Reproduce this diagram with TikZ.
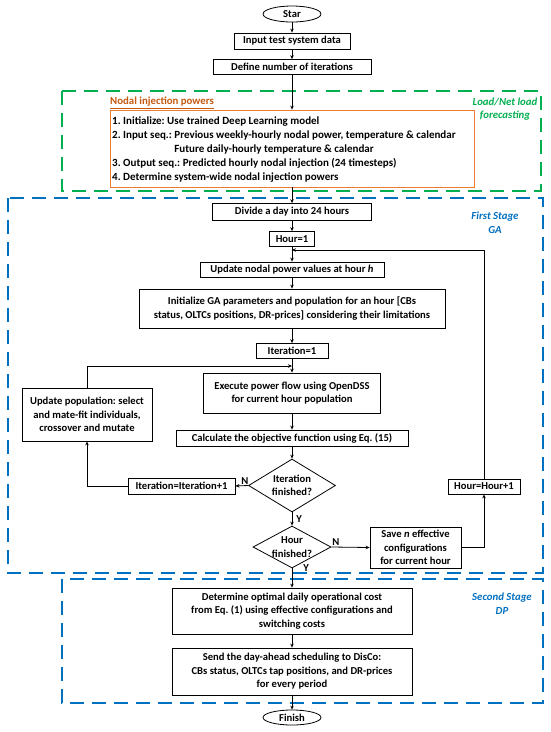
\documentclass[tikz,border=0pt]{standalone}
\usepackage{fontspec}
\setmainfont{Carlito}
\usepackage{xcolor}
\usepackage{tikz}
\usetikzlibrary{arrows.meta, shapes.geometric, positioning}
\definecolor{stageblue}{HTML}{0070C0}
\definecolor{loadgreen}{HTML}{00B050}
\definecolor{nodalorange}{HTML}{C55A11}
\definecolor{boxorange}{HTML}{ED7D31}
\frenchspacing

\begin{document}
\begin{tikzpicture}[x=1pt, y=-1pt,
  every node/.style={font=\fontsize{10.6}{13.6}\selectfont\bfseries},
  box/.style={draw, line width=0.8pt, align=center, inner sep=1pt},
  term/.style={draw, ellipse, line width=0.8pt, inner sep=0pt},
  decision/.style={draw, diamond, line width=0.8pt, inner sep=0pt},
  arr/.style={-{Stealth[length=4pt, width=3.5pt]}, line width=0.8pt},
  stagebox/.style={line width=2pt, dash pattern=on 14pt off 8pt},
  stagelbl/.style={font=\fontsize{10.8}{13.6}\selectfont\bfseries\itshape, align=center},
  branch/.style={inner sep=1pt}]
  \useasboundingbox[fill=white] (0,0) rectangle (550,732);
  % Debut et donnees
  \node[term, minimum width=58, minimum height=16] (start) at (292,14) {Star};
  \node[box, minimum width=116, minimum height=16] (input) at (292,41) {Input test system data};
  \node[box, minimum width=158, minimum height=15] (iters) at (292,67) {Define number of iterations};
  % Prevision de charge (vert)
  \draw[stagebox, loadgreen] (62,91) rectangle (541,191);
  \node[stagelbl, text=loadgreen] (loadlbl) at (505,109) {Load/Net load\\forecasting};
  \node[text=nodalorange, anchor=west, inner sep=1pt, font=\fontsize{10.8}{13}\selectfont\bfseries] (nodallbl) at (109,103) {\underline{Nodal injection powers}};
  \node[draw=boxorange, line width=0.8pt, minimum width=364, minimum height=77] (nodal) at (292,148.5) {};
  \node[anchor=west, align=left, inner sep=0pt, font=\fontsize{11}{14}\selectfont\bfseries] (nodaltxt) at (112,150)
    {1. Initialize: Use trained Deep Learning model\\
     2. Input seq.: Previous weekly-hourly nodal power, temperature \& calendar\\
     \hphantom{2. Input seq.: }Future daily-hourly temperature \& calendar\\
     3. Output seq.: Predicted hourly nodal injection (24 timesteps)\\
     4. Determine system-wide nodal injection powers};
  % Premier etage (GA)
  \draw[stagebox, stageblue] (8,198) rectangle (543,573);
  \node[stagelbl, text=stageblue] (galbl) at (495,223) {First Stage\\GA};
  \node[box, minimum width=159, minimum height=17] (divide) at (292,212) {Divide a day into 24 hours};
  \node[box, minimum width=45, minimum height=15] (hour1) at (292,239) {Hour=1};
  \node[box, minimum width=184, minimum height=15] (updnodal) at (292,269.5) {Update nodal power values at hour \textit{h}};
  \node[box, minimum width=306, minimum height=39] (initga) at (292,308.5) {Initialize GA parameters and population for an hour [CBs\\status, OLTCs positions, DR-prices] considering their limitations};
  \node[box, minimum width=72, minimum height=15] (iter1) at (292,351) {Iteration=1};
  \node[box, minimum width=177, minimum height=40] (execute) at (292,393) {Execute power flow using OpenDSS\\for current hour population};
  \node[box, minimum width=232, minimum height=16] (calc) at (292,438) {Calculate the objective function using Eq. (15)};
  \node[decision, minimum width=87, minimum height=53] (itdone) at (292,485.5) {};
  \node[align=center] (itdonetxt) at (itdone) {Iteration\\finished?};
  \node[box, minimum width=107, minimum height=16] (itinc) at (181.5,486) {Iteration=Iteration+1};
  \node[box, minimum width=130, minimum height=53] (updpop) at (87,414.5) {Update population: select\\and mate-fit individuals,\\crossover and mutate};
  \node[decision, minimum width=78, minimum height=42] (hrdone) at (292,547) {};
  \node[align=center] (hrdonetxt) at (hrdone) {Hour\\finished?};
  \node[box, minimum width=91, minimum height=41] (save) at (415.5,547.5) {Save \textit{n} effective\\configurations\\for current hour};
  \node[box, minimum width=72, minimum height=15] (hrinc) at (484,486.5) {Hour=Hour+1};
  \coordinate (mrghour) at (292,250);
  \coordinate (mrgiter) at (292,366);
  % Second etage (DP)
  \draw[stagebox, stageblue] (62,579) rectangle (543,703);
  \node[stagelbl, text=stageblue] (dplbl) at (502,604) {Second Stage\\DP};
  \node[box, minimum width=240, minimum height=46] (determine) at (292,611) {Determine optimal daily operational cost\\from Eq. (1) using effective configurations and\\switching costs};
  \node[box, minimum width=240, minimum height=47] (send) at (292,671.5) {Send the day-ahead scheduling to DisCo:\\CBs status, OLTCs tap positions, and DR-prices\\for every period};
  \node[term, minimum width=58, minimum height=15] (finish) at (292,717.5) {Finish};
  % Fleches principales
  \foreach \a/\b in {start/input, input/iters, iters/nodal, nodal/divide, divide/hour1, hour1/updnodal, updnodal/initga, initga/iter1, iter1/execute, execute/calc, calc/itdone, determine/send, send/finish}{
    \draw[arr] (\a) -- (\b);
  }
  % Boucles
  \draw[arr] (itdone.west) -- (itinc.east) node[branch, near start, above] {N};
  \draw[arr] (itinc.west) -| (updpop.south);
  \draw[arr] (updpop.north) |- (mrgiter);
  \draw[arr] (itdone.south) -- (hrdone.north) node[branch, midway, right, xshift=3pt] {Y};
  \draw[arr] (hrdone.east) -- (save.west) node[branch, pos=0.12, above] {N};
  \draw[arr] (save.east) -| (hrinc.south);
  \draw[arr] (hrinc.north) |- (mrghour);
  \draw[arr] (hrdone.south) -- (determine.north) node[branch, pos=0, anchor=west, xshift=10pt] {Y};
\end{tikzpicture}
\end{document}
